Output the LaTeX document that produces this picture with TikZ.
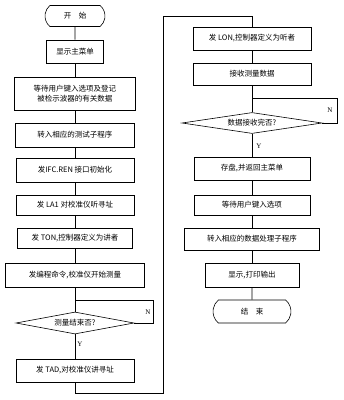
\documentclass[tikz,border=0pt]{standalone}
\usepackage{fontspec}
\setmainfont{Liberation Serif}
\newfontfamily\cjk{Noto Sans CJK SC}
\usetikzlibrary{shapes.geometric,shapes.misc}
\begin{document}
\begin{tikzpicture}[x=1pt,y=-1pt,
  line width=0.6pt,
  box/.style={draw, rectangle, inner sep=0pt, align=center,
    font=\cjk\fontsize{7.5}{10}\selectfont},
  term/.style={draw, rounded rectangle, rounded rectangle arc length=100,
    inner sep=0pt, font=\cjk\fontsize{7.5}{10}\selectfont},
  decide/.style={draw, diamond, inner sep=0pt,
    font=\cjk\fontsize{7.5}{10}\selectfont},
  yn/.style={font=\fontsize{7}{8}\selectfont, inner sep=0pt},
  conn/.style={draw, line width=0.6pt}]
\useasboundingbox (0,0) rectangle (344,400);
% left column
\node[term, minimum width=60pt, minimum height=21pt] (t1) at (75,16) {开\quad 始};
\node[box, minimum width=57pt, minimum height=23pt] (b2) at (75,51.5) {显示主菜单};
\node[box, minimum width=121pt, minimum height=33pt] (b3) at (75,93.5) {等待用户键入选项及登记\\被检示波器的有关数据};
\node[box, minimum width=119pt, minimum height=24pt] (b4) at (75,135) {转入相应的测试子程序};
\node[box, minimum width=118pt, minimum height=24pt] (b5) at (75,170) {发IFC.REN 接口初始化};
\node[box, minimum width=118pt, minimum height=20pt] (b6) at (75,205) {发 LA1 对校准仪听寻址};
\node[box, minimum width=115pt, minimum height=20pt] (b7) at (75,238) {发 TON,控制器定义为讲者};
\node[box, minimum width=139pt, minimum height=24pt] (b8) at (75,275) {发编程命令,校准仪开始测量};
\node[decide, aspect=5.4, minimum width=118pt, minimum height=22pt] (d9) at (75,323) {测量结束否?};
\node[box, minimum width=118pt, minimum height=23pt] (b10) at (75,370.5) {发 TAD,对校准仪讲寻址};
% right column
\node[box, minimum width=118pt, minimum height=23pt] (b11) at (252,38.5) {发 LON,控制器定义为听者};
\node[box, minimum width=118pt, minimum height=22pt] (b12) at (252,74) {接收测量数据};
\node[decide, aspect=6.7, minimum width=140pt, minimum height=21pt] (d13) at (252,123) {数据接收完否?};
\node[box, minimum width=116pt, minimum height=23pt] (b14) at (252,168.5) {存盘,并返回主菜单};
\node[box, minimum width=116pt, minimum height=20pt] (b15) at (252,205) {等待用户键入选项};
\node[box, minimum width=135pt, minimum height=22pt] (b16) at (252,239) {转入相应的数据处理子程序};
\node[box, minimum width=94pt, minimum height=24pt] (b17) at (252,275) {显示,打印输出};
\node[term, minimum width=78pt, minimum height=23pt] (t18) at (252,311.5) {结\quad 束};
% helper coordinates
\coordinate (lN) at (153,300);
\coordinate (j1) at (75,300);
\coordinate (c1) at (163,393);
\coordinate (c2) at (163,16);
\coordinate (rN) at (337,98);
\coordinate (j2) at (252,98);
% connectors left
\draw[conn] (t1) -- (b2);
\draw[conn] (b2) -- (b3);
\draw[conn] (b3) -- (b4);
\draw[conn] (b4) -- (b5);
\draw[conn] (b5) -- (b6);
\draw[conn] (b6) -- (b7);
\draw[conn] (b7) -- (b8);
\draw[conn] (b8) -- (d9);
\draw[conn] (d9) -- (b10);
\draw[conn] (d9.east) -| (lN) -- (j1);
\draw[conn] (b10.south) |- (c1) -- (c2) -| (b11.north);
% connectors right
\draw[conn] (b11) -- (b12);
\draw[conn] (b12) -- (d13);
\draw[conn] (d13) -- (b14);
\draw[conn] (d13.east) -| (rN) -- (j2);
\draw[conn] (b14) -- (b15);
\draw[conn] (b15) -- (b16);
\draw[conn] (b16) -- (b17);
\draw[conn] (b17) -- (t18);
% labels
\node[yn] (n1) at (148,312) {N};
\node[yn] (y1) at (80,344) {Y};
\node[yn] (n2) at (330,110) {N};
\node[yn] (y2) at (259,146) {Y};
\end{tikzpicture}
\end{document}
